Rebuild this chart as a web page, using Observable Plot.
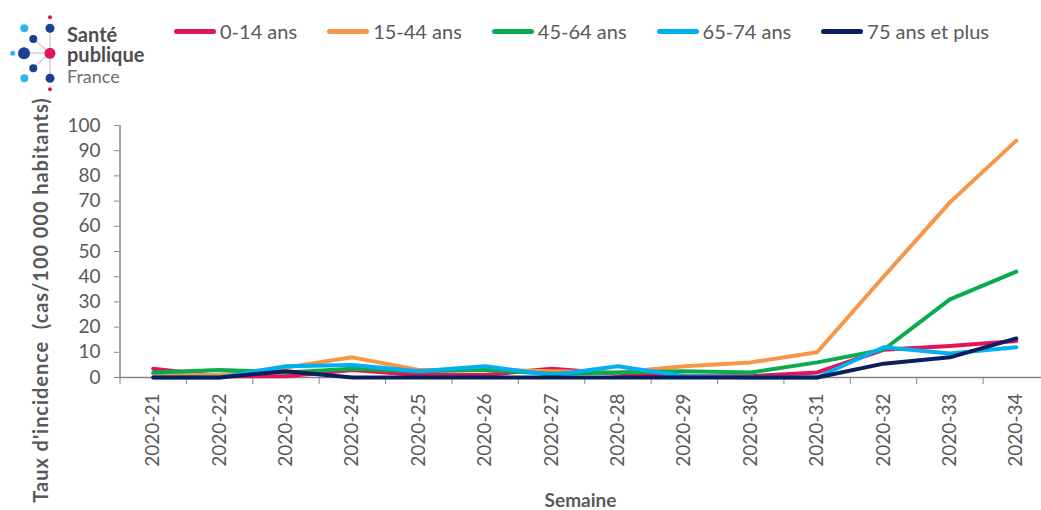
<!DOCTYPE html>
<html>
<head>
<meta charset="utf-8">
<script src="https://cdn.jsdelivr.net/npm/d3@7"></script>
<script src="https://cdn.jsdelivr.net/npm/@observablehq/plot@0.6"></script>
<style>
  html, body { margin: 0; padding: 0; background: #fff; overflow: hidden; }
  #wrap { width: 1041px; height: 510px; position: relative; font-family: Lato, "Open Sans", sans-serif; }
  #top { position: relative; height: 100px; }
  #logo { position: absolute; left: 0; top: 0; }
  #legend { position: absolute; left: 174px; top: 19px; display: flex; gap: 30px; align-items: center; }
  .item { display: flex; align-items: center; font-size: 20px; color: #595959; }
  .sw { width: 42px; height: 5px; border-radius: 3px; margin-right: 4px; }
  #ytitle { position: absolute; left: 40px; top: 300px; transform: translate(-50%, -50%) rotate(-90deg); white-space: pre; font-weight: bold; font-size: 20px; letter-spacing: 0.95px; color: #595959; }
</style>
</head>
<body>
<div id="wrap">
  <div id="top">
    <svg id="logo" width="160" height="100" viewBox="0 0 160 100">
      <g stroke="#d0d0d0" stroke-width="1.5">
        <line x1="50" y1="53" x2="50" y2="28"/>
        <line x1="50" y1="53" x2="50" y2="78"/>
        <line x1="50" y1="53" x2="24" y2="53"/>
        <line x1="50" y1="53" x2="33" y2="39"/>
        <line x1="50" y1="53" x2="33" y2="68"/>
      </g>
      <circle cx="50" cy="17.3" r="2" fill="#e4135a"/>
      <circle cx="50" cy="28.3" r="4.5" fill="#1b3f93"/>
      <circle cx="24.3" cy="28.3" r="4" fill="#2fb5e8"/>
      <circle cx="33.3" cy="39" r="4" fill="#1b3f93"/>
      <circle cx="12.7" cy="53.3" r="2.5" fill="#2fb5e8"/>
      <circle cx="24" cy="53.3" r="6" fill="#1b3f93"/>
      <circle cx="50" cy="53.3" r="5.5" fill="#e4135a"/>
      <circle cx="33.3" cy="68.3" r="4" fill="#1b3f93"/>
      <circle cx="24.3" cy="78.3" r="4" fill="#2fb5e8"/>
      <circle cx="50" cy="78.3" r="4.5" fill="#1b3f93"/>
      <circle cx="50" cy="89.3" r="2" fill="#e4135a"/>
      <text x="67" y="42" font-family="Lato" font-weight="bold" font-size="20" fill="#4d4d4f">Santé</text>
      <text x="67" y="62" font-family="Lato" font-weight="bold" font-size="20" fill="#4d4d4f">publique</text>
      <text x="67" y="83" font-family="Lato" font-size="18" fill="#6d6e71">France</text>
    </svg>
    <div id="legend"></div>
  </div>
  <div id="chart"></div>
  <div id="ytitle"></div>
</div>
<script>
const weeks = ["2020-21","2020-22","2020-23","2020-24","2020-25","2020-26","2020-27","2020-28","2020-29","2020-30","2020-31","2020-32","2020-33","2020-34"];
const groups = ["0-14 ans","15-44 ans","45-64 ans","65-74 ans","75 ans et plus"];
const colors = ["#e4135a","#f79646","#0aaa4f","#00b0f0","#0b1f5c"];
const v0_14  = [3.5, 0.5, 0.5, 3, 1, 1, 3.5, 1.5, 0.5, 0.5, 2, 11, 12.5, 14.5];
const v15_44 = [1.5, 1, 4, 8, 3, 3, 2.5, 2, 4.5, 6, 10, 40, 69.5, 94];
const v45_64 = [2, 3, 2, 3.5, 2.5, 3, 1.5, 2, 2.5, 2, 6, 11, 31, 42];
const v65_74 = [0, 0, 4.5, 5, 2.5, 4.5, 1, 4.5, 0.5, 0, 0, 12, 9.5, 12];
const v75    = [0, 0, 2.5, 0, 0, 0, 0, 0, 0, 0, 0, 5.5, 8, 15.5];
const yTicks = [0,10,20,30,40,50,60,70,80,90,100];
const xTitle = "Semaine";
const yTitle = "Taux d'incidence  (cas/100 000 habitants)";

const seriesValues = [v0_14, v15_44, v45_64, v65_74, v75];
const data = groups.flatMap((g, k) => seriesValues[k].map((v, i) => ({i, week: weeks[i], group: g, value: v})));

// legend
const legend = document.getElementById("legend");
groups.forEach((g, k) => {
  const it = document.createElement("div");
  it.className = "item";
  it.innerHTML = `<span class="sw" style="background:${colors[k]}"></span><span>${g}</span>`;
  legend.appendChild(it);
});
document.getElementById("ytitle").textContent = yTitle;

const chart = Plot.plot({
  width: 1041,
  height: 410,
  marginTop: 25,
  marginBottom: 133,
  marginLeft: 119,
  marginRight: 0,
  style: {fontFamily: "Lato, 'Open Sans', sans-serif", fontSize: "19px", color: "#595959", background: "white"},
  x: {domain: [-0.5, weeks.length - 0.5], range: [119.5, 1049]},
  y: {domain: [0, 100]},
  color: {domain: groups, range: colors},
  marks: [
    Plot.axisY({ticks: yTicks, tickSize: 5, tickPadding: 14, stroke: "#868686", label: null, fontSize: 19}),
    Plot.axisX({ticks: d3.range(-0.5, weeks.length, 1), tickSize: 7, tickFormat: () => "", stroke: "#868686", label: null}),
    Plot.axisX({ticks: d3.range(weeks.length), tickSize: 0, tickPadding: 16, tickRotate: -90, tickFormat: i => weeks[i], label: null, fontSize: 19}),
    Plot.ruleX([-0.5], {stroke: "#868686", strokeWidth: 1.5}),
    Plot.ruleY([0], {stroke: "#868686", strokeWidth: 1.5}),
    Plot.line(data, {x: "i", y: "value", z: "group", stroke: "group", strokeWidth: 4, strokeLinecap: "round", strokeLinejoin: "round"}),
    Plot.text([xTitle], {text: d => d, frameAnchor: "bottom", dy: 129, fontWeight: "bold", fontSize: 19, fill: "#595959"})
  ]
});
document.getElementById("chart").appendChild(chart);
</script>
</body>
</html>
